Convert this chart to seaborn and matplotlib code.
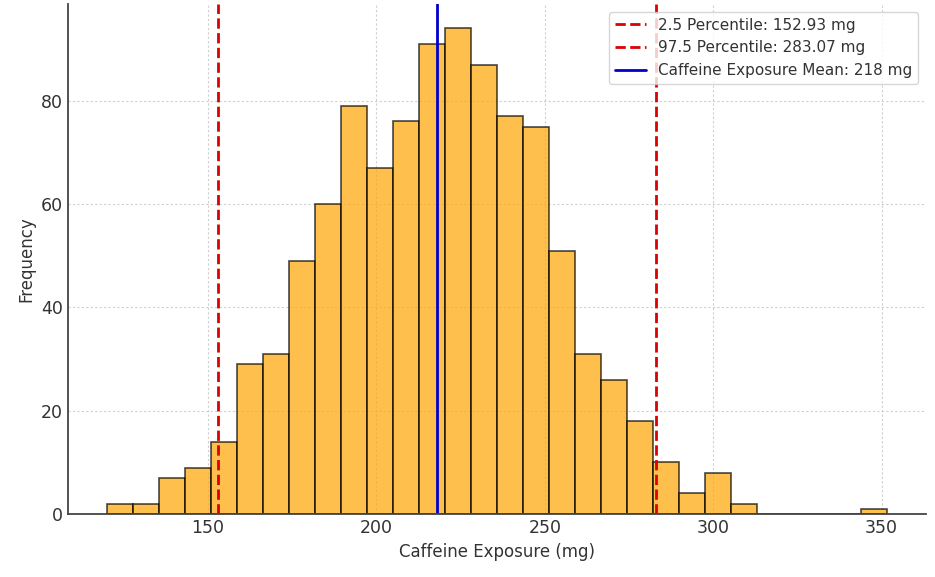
import numpy as np
import pandas as pd
import matplotlib
matplotlib.use("Agg")
import matplotlib.pyplot as plt
import seaborn as sns

# ---------------- data ----------------
bin_low = 120.0
bin_high = 351.6
n_bins = 30
counts = [2, 2, 7, 9, 14, 29, 31, 49, 60, 79,
          67, 76, 91, 94, 87, 77, 75, 51, 31, 26,
          18, 10, 4, 8, 2, 0, 0, 0, 0, 1]
p_low = 152.93
p_high = 283.07
mean_val = 218

edges = np.linspace(bin_low, bin_high, n_bins + 1)
df = pd.DataFrame({"exposure": (edges[:-1] + edges[1:]) / 2,
                   "count": counts})

# ---------------- style ----------------
sns.set_style("whitegrid", {
    "grid.linestyle": (0, (2, 2)),
    "grid.color": "#cfcfcf",
    "axes.edgecolor": "#444444",
    "xtick.direction": "in",
    "ytick.direction": "in",
})
plt.rcParams["font.family"] = ["DejaVu Sans"]

fig = plt.figure(figsize=(9.35, 5.77), dpi=100)
ax = fig.add_axes([0.0727, 0.109, 0.9176, 0.884])

sns.histplot(data=df, x="exposure", weights="count", bins=list(edges),
             color="orange", alpha=0.7, edgecolor=(0, 0, 0, 0.7),
             linewidth=1.2, ax=ax)

ax.axvline(p_low, color="#dd0000", linestyle="--", linewidth=2,
           label=f"2.5 Percentile: {p_low:.2f} mg")
ax.axvline(p_high, color="#dd0000", linestyle="--", linewidth=2,
           label=f"97.5 Percentile: {p_high:.2f} mg")
ax.axvline(mean_val, color="#0000cc", linestyle="-", linewidth=2,
           label=f"Caffeine Exposure Mean: {mean_val} mg")

ax.set_xlabel("Caffeine Exposure (mg)", fontsize=12, color="#333333")
ax.set_ylabel("Frequency", fontsize=12, color="#333333")
ax.tick_params(axis="both", labelsize=12.5, colors="#333333", length=4, width=1)
ax.set_yticks([0, 20, 40, 60, 80])

sns.despine(ax=ax, top=True, right=True)
for s in ["left", "bottom"]:
    ax.spines[s].set_linewidth(1.3)

leg = ax.legend(loc="upper right", fontsize=11, frameon=True, handlelength=2)
leg.get_frame().set_edgecolor("#cccccc")
for t in leg.get_texts():
    t.set_color("#333333")

fig.savefig("out.png", dpi=100)
